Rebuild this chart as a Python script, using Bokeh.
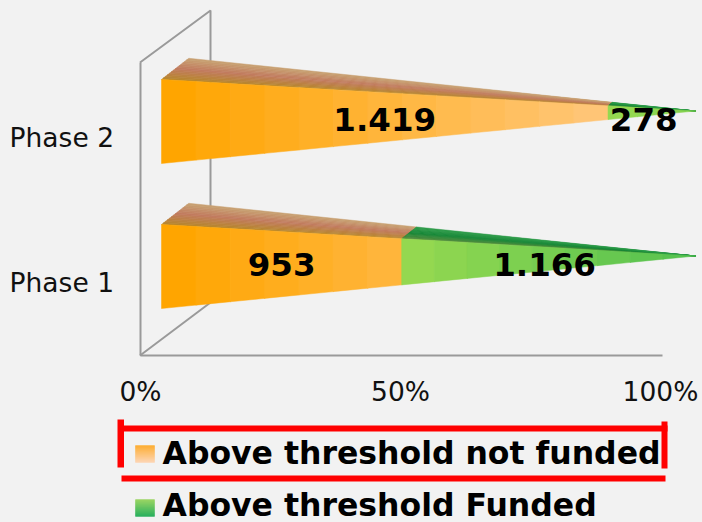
from bokeh.plotting import figure
from bokeh.models import Range1d, FixedTicker, ColumnDataSource
from bokeh.core.properties import value
from bokeh.embed import file_html
from bokeh.resources import INLINE

categories = ["Phase 1", "Phase 2"]
not_funded = [953, 1419]
funded = [1166, 278]
not_funded_labels = ["953", "1.419"]
funded_labels = ["1.166", "278"]
x_ticks = [0, 50, 100]
x_tick_labels = ["0%", "50%", "100%"]
legend_labels = ["Above threshold not funded", "Above threshold Funded"]

BG = "#F2F2F2"
PX_PER_PCT = 5.2
PX_PER_CAT = 145.0
X0_PX, Y1_PX = 140.0, 282.0


def dx(px):
    return px / PX_PER_PCT


def dy(px):
    return px / PX_PER_CAT


def X(px):
    return (px - X0_PX) / PX_PER_PCT


def Y(px):
    return 1 - (px - Y1_PX) / PX_PER_CAT


def hexmix(a, b, t):
    return "#%02x%02x%02x" % tuple(round(a[i] + (b[i] - a[i]) * t) for i in range(3))


p = figure(width=702, height=522, output_backend="svg", toolbar_location=None,
           x_range=Range1d(X(0), X(702)), y_range=Range1d(Y(522), Y(0)),
           min_border=0, background_fill_color=BG, border_fill_color=BG)
p.outline_line_color = None
p.grid.visible = False

# axes on the chart's floor and left wall
xa = p.xaxis[0]
xa.fixed_location = Y(355)
xa.bounds = (0, 100.3)
xa.ticker = FixedTicker(ticks=x_ticks)
xa.major_label_overrides = {t: l for t, l in zip(x_ticks, x_tick_labels)}
xa.axis_line_color = "#9A9A9A"
xa.axis_line_width = 2
xa.major_tick_line_color = None
xa.minor_tick_line_color = None
xa.major_label_text_font = "DejaVu Sans"
xa.major_label_text_font_size = "26.5px"
xa.major_label_text_color = "#111111"
xa.major_label_standoff = 14

ya = p.yaxis[0]
ya.fixed_location = X(139.5)
ya.bounds = (Y(355), Y(62))
ya.ticker = FixedTicker(ticks=[1, 2])
ya.major_label_overrides = {i + 1: c for i, c in enumerate(categories)}
ya.axis_line_color = "#9A9A9A"
ya.axis_line_width = 2
ya.major_tick_line_color = None
ya.minor_tick_line_color = None
ya.major_label_text_font = "DejaVu Sans"
ya.major_label_text_font_size = "26.5px"
ya.major_label_text_color = "#111111"
ya.major_label_standoff = 20

# back wall
p.line([X(139.5), X(210), X(210), X(139.5)],
       [Y(62), Y(10), Y(302), Y(355)], line_color="#9A9A9A", line_width=2)

# 3D pyramid geometry, relative to the category position
BAR_X0 = X(161)
BAR_SPAN = dx(534)
DEPTH_X = dx(27)
DEPTH_Y = dy(21)
BAR_H = dy(84)
BAR_BOTTOM = -dy(26)
APEX_UP = dy(52.5)
BAND_PX = 34.0

ORANGE = [(255, 165, 0), (255, 200, 128)]
GREEN = [(148, 216, 80), (80, 192, 80)]
TOP_ORANGE = [(184, 136, 46), (194, 124, 96), (201, 166, 117)]
TOP_GREEN = [(86, 140, 60), (24, 136, 56), (48, 158, 76)]


def front_pt(cat, s, v):
    """s along the bar length, v from bottom (0) to top (1) of the front face."""
    bot = cat + BAR_BOTTOM
    apex = bot + APEX_UP
    y0 = bot + v * BAR_H
    return BAR_X0 + s * BAR_SPAN, y0 + s * (apex - y0)


def top_pt(cat, s, d):
    """s along the bar length, d across the depth of the top face."""
    bot = cat + BAR_BOTTOM
    apex_x = BAR_X0 + BAR_SPAN
    apex_y = bot + APEX_UP
    x0 = BAR_X0 + d * DEPTH_X
    y0 = bot + BAR_H + d * DEPTH_Y
    return x0 + s * (apex_x - x0), y0 + s * (apex_y - y0)


xs, ys, cs = [], [], []


def add_quad(pts, color):
    xs.append([q[0] for q in pts])
    ys.append([q[1] for q in pts])
    cs.append(color)


def add_front(cat, s0, s1, cols, span_to_full):
    n = max(1, round((s1 - s0) * 534 / BAND_PX))
    for i in range(n):
        a = s0 + (s1 - s0) * i / n
        b = s0 + (s1 - s0) * (i + 1) / n
        t = (a - s0) / span_to_full
        add_quad([front_pt(cat, a, 0), front_pt(cat, b + 0.001, 0),
                  front_pt(cat, b + 0.001, 1), front_pt(cat, a, 1)],
                 hexmix(cols[0], cols[1], min(t, 1)))


def add_top(cat, s0, s1, cols):
    m = 14
    for j in range(m):
        d0, d1 = j / m, (j + 1) / m
        t = d0 * 2
        c = hexmix(cols[0], cols[1], t) if t < 1 else hexmix(cols[1], cols[2], t - 1)
        add_quad([top_pt(cat, s0, d0), top_pt(cat, s1, d0),
                  top_pt(cat, s1, d1 + 0.01), top_pt(cat, s0, d1 + 0.01)], c)


label_rows = []
for i, cat in enumerate([1, 2]):
    total = not_funded[i] + funded[i]
    share = not_funded[i] / total
    add_top(cat, 0, share, TOP_ORANGE)
    add_top(cat, share, 1, TOP_GREEN)
    add_front(cat, 0, share, ORANGE, 0.837)
    add_front(cat, share, 1, GREEN, 1 - 0.451)
    lab_y = front_pt(cat, 0, 0)[1] + BAR_H / 2
    label_rows.append((BAR_X0 + share / 2 * BAR_SPAN, lab_y, not_funded_labels[i], 0))
    label_rows.append((BAR_X0 + (share + 1) / 2 * BAR_SPAN, lab_y, funded_labels[i],
                       -8 if funded[i] < 500 else -4))

p.patches("x", "y", source=ColumnDataSource(dict(x=xs, y=ys, c=cs)),
          fill_color="c", line_color="c", line_width=0.5)

p.text([r[0] for r in label_rows], [r[1] for r in label_rows],
       text=[r[2] for r in label_rows], x_offset=[r[3] for r in label_rows], y_offset=-2,
       text_font=value("DejaVu Sans"), text_font_style="bold", text_font_size="32.5px",
       text_color="#000000", text_align="center", text_baseline="middle")

# legend swatches with vertical gradient
SW = [(445, 462, (255, 165, 25), (255, 208, 168)), (499, 516, (142, 209, 79), (16, 168, 74))]
sw_top, sw_bot, sw_col = [], [], []
for top, bot, c0, c1 in SW:
    for k in range(top, bot):
        t = (k - top) / (bot - top - 1)
        sw_top.append(Y(k))
        sw_bot.append(Y(k + 1))
        sw_col.append(hexmix(c0, c1, t))
p.quad(left=X(135), right=X(154), top=sw_top, bottom=sw_bot,
       fill_color=sw_col, line_color=sw_col, line_width=0.3, fill_alpha=1.0, line_alpha=1.0)

p.text([X(162), X(162)], [Y(452), Y(504)], text=legend_labels,
       text_font=value("DejaVu Sans"), text_font_style="bold", text_font_size="31.5px",
       text_color="#000000", text_align="left", text_baseline="middle")

# red highlight strokes
for left, right, top, bot in [(117, 123.5, 419, 467), (120, 667, 425, 431),
                              (121, 665, 475, 481), (661, 667, 421, 468)]:
    p.quad(left=X(left), right=X(right), top=Y(top), bottom=Y(bot),
           fill_color="#FF0000", line_color=None)

html = file_html(p, INLINE)
html = html.replace("<body>", '<body style="background:%s;overflow:hidden">' % BG)
open("out.html", "w").write(html)
